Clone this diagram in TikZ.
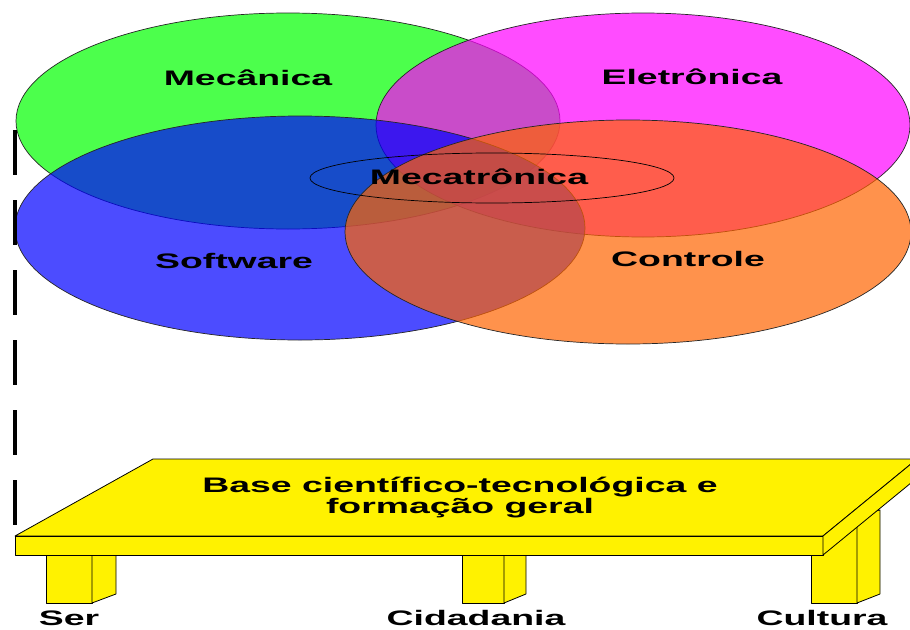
\documentclass[tikz,border=0pt]{standalone}
\usepackage{fontspec}
\setmainfont{Liberation Sans}
\begin{document}
\begin{tikzpicture}[x=1pt,y=-1pt,
  blob/.style={draw=black!85, line width=0.7pt, fill opacity=0.7},
  lbl/.style={font=\fontsize{21}{21}\selectfont\bfseries, xscale=1.78, transform shape,
              inner sep=0pt, anchor=base},
  wood/.style={fill=yellow, draw=black, line width=0.8pt, line join=round}]
\definecolor{mgreen}{RGB}{0,255,0}
\definecolor{mblue}{RGB}{0,0,255}
\definecolor{mmagenta}{RGB}{255,0,255}
\definecolor{morange}{RGB}{255,100,0}
\useasboundingbox (0,0) rectangle (910,629);

% overlapping fields
\path[blob, fill=mgreen]   (288,121) ellipse [x radius=272, y radius=108];
\path[blob, fill=mmagenta] (643,125) ellipse [x radius=267, y radius=112];
\path[blob, fill=mblue]    (300,228) ellipse [x radius=285, y radius=112];
\path[blob, fill=morange]  (628,232) ellipse [x radius=283, y radius=112];
\draw[black, line width=0.7pt] (492,178) ellipse [x radius=182, y radius=25];

\node[lbl] (mec) at (248,85)  {Mecânica};
\node[lbl] (ele) at (692,84)  {Eletrônica};
\node[lbl] (sof) at (234,268) {Software};
\node[lbl] (con) at (688,266) {Controle};
\node[lbl] (mct) at (479,184) {Mecatrônica};

% dashed guide on the left
\coordinate (dtop) at (15,130);
\coordinate (dbot) at (15,525);
\draw[line width=4pt, dash pattern=on 45pt off 25pt] (dtop) -- (dbot);

% table legs
\draw[wood] (46,555) rectangle (92,603);
\draw[wood] (92,555) -- (116,555) -- (116,594) -- (92,603) -- cycle;
\draw[wood] (462,555) rectangle (504,603);
\draw[wood] (504,555) -- (526,555) -- (526,594) -- (504,603) -- cycle;
\draw[wood] (811,520) rectangle (857,603);
\draw[wood] (857,515) -- (880,510) -- (880,594) -- (857,603) -- cycle;

% table slab
\draw[wood] (15,536) -- (153,459) -- (917,459) -- (823,536) -- cycle;
\draw[wood] (15,536) rectangle (823,555);
\draw[wood] (823,536) -- (917,459) -- (917,478) -- (823,555) -- cycle;

\node[lbl] (base1) at (460,492) {Base científico-tecnológica e};
\node[lbl] (base2) at (460,513) {formação geral};

\node[lbl] (ser) at (69,625)  {Ser};
\node[lbl] (cid) at (476,625) {Cidadania};
\node[lbl] (cul) at (822,625) {Cultura};
\end{tikzpicture}
\end{document}
